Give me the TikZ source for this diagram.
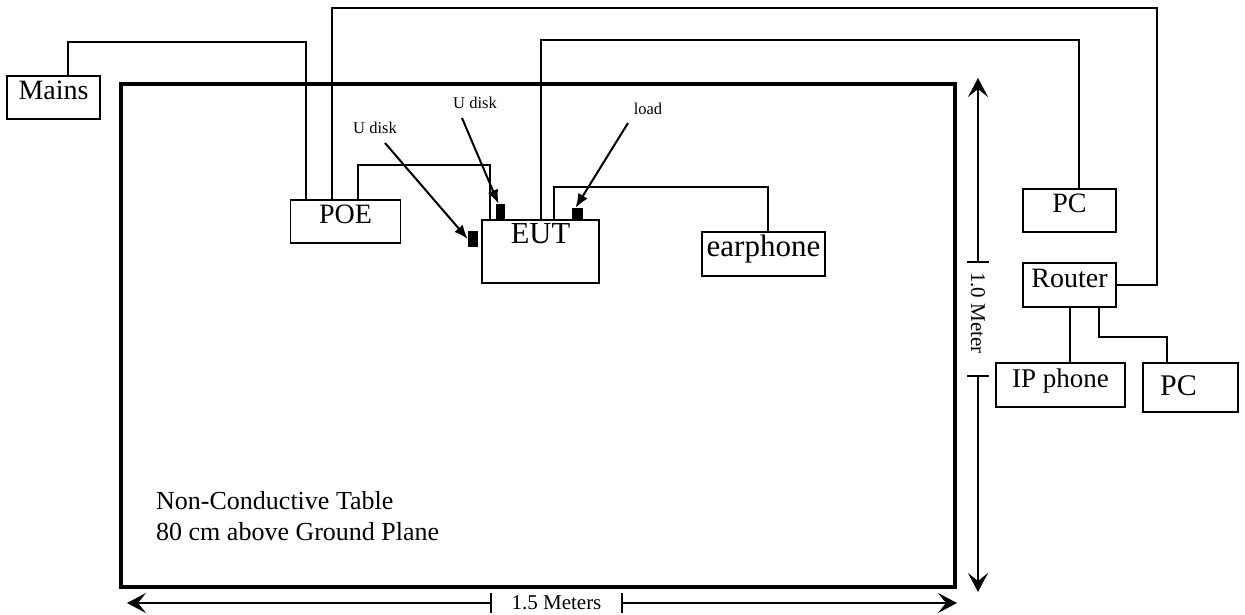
\documentclass[tikz,border=0pt]{standalone}
\usepackage{fontspec}
\setmainfont{Liberation Serif}
\usetikzlibrary{arrows.meta,positioning,calc}

\begin{document}
\begin{tikzpicture}[x=1pt, y=-1pt,
  box/.style={draw, line width=1.8pt, inner sep=0pt, text height=0.7em, text depth=0.25em,
              font=\fontsize{28}{30}\selectfont},
  wire/.style={line width=2pt},
  port/.style={fill=black, inner sep=0pt},
  tag/.style={font=\fontsize{16.5}{18}\selectfont, inner sep=0pt},
  ptr/.style={line width=2pt, -{Latex[length=14pt, width=11pt]}},
  dim/.style={line width=1.8pt, -{Stealth[length=19pt, width=20pt, inset=8pt]}},
  dimtext/.style={font=\fontsize{21}{24}\selectfont, inner sep=0pt}]
  \useasboundingbox (0,0) rectangle (1245,615);

  % table
  \node[draw, line width=3.5pt, minimum width=834pt, minimum height=503pt, inner sep=0pt] (table) at (538,335.5) {};
  \node[anchor=north west, align=left, inner sep=0pt, font=\fontsize{26}{31}\selectfont] (tablenote) at (156,491)
      {Non-Conductive Table\\80 cm above Ground Plane};

  % equipment
  \node[box, minimum width=93pt, minimum height=43pt] (mains) at (53.5,97.5) {Mains};
  \node[box, minimum width=110pt, minimum height=43pt] (poe) at (345.5,221.5) {POE};
  \node[box, minimum width=117pt, minimum height=63pt, text height=23pt, text depth=40pt,
        font=\fontsize{30.5}{32}\selectfont] (eut) at (540.5,251.5) {EUT};
  \node[box, minimum width=123pt, minimum height=44pt, font=\fontsize{31}{32}\selectfont] (ear) at (763.5,254) {earphone};
  \node[box, minimum width=93pt, minimum height=43pt] (pcA) at (1069.5,210.5) {PC};
  \node[box, minimum width=93pt, minimum height=44pt] (router) at (1069.5,285) {Router};
  \node[box, minimum width=129pt, minimum height=44pt, font=\fontsize{27}{30}\selectfont] (ipphone) at (1060.5,385) {IP phone};
  \node[box, minimum width=95pt, minimum height=49pt, text height=20pt, text depth=5pt,
        font=\fontsize{30}{32}\selectfont] (pcB) at (1190.5,387.5) {PC\kern24pt};

  % ports on the EUT
  \node[port, minimum width=10pt, minimum height=16pt] (usbA) at (473,239) {};
  \node[port, minimum width=9pt, minimum height=15pt] (usbB) at (500.5,211.5) {};
  \node[port, minimum width=11pt, minimum height=11pt] (loadport) at (577.5,213.5) {};

  \node[tag] (udiskA) at (375,128) {U disk};
  \node[tag] (udiskB) at (475,103) {U disk};
  \node[tag] (loadtag) at (648,109) {load};
  \coordinate (udAtail) at (385,143);
  \coordinate (udBtail) at (462,118);
  \coordinate (loadtail) at (628,123);
  \draw[ptr] (udAtail) -- (usbA.west);
  \draw[ptr] (udBtail) -- ([xshift=-2pt]usbB.north);
  \draw[ptr] (loadtail) -- ([xshift=-2pt]loadport.north);

  % cables
  \coordinate (mainsbend) at (306,42);
  \coordinate (toprun) at (1157,8);
  \coordinate (poebend) at (490,165);
  \coordinate (pcrun) at (1079,40);
  \coordinate (earbend) at (768,187);
  \coordinate (pcbbend) at (1167,337);
  \draw[wire] ([xshift=14.5pt]mains.north) |- (mainsbend) -- (mainsbend |- poe.north);
  \draw[wire] ([xshift=42.5pt]poe.north west) |- (toprun) |- (router.east);
  \draw[wire] ([xshift=68.5pt]poe.north west) |- (poebend) -- (poebend |- eut.north);
  \draw[wire] (eut.north) |- (pcrun) -- (pcrun |- pcA.north);
  \draw[wire] ([xshift=13.5pt]eut.north) |- (earbend) -- (earbend |- ear.north);
  \draw[wire] (router.south) -- (router.south |- ipphone.north);
  \draw[wire] ([xshift=29.5pt]router.south) |- (pcbbend) -- (pcbbend |- pcB.north);

  % dimensions
  \node[dimtext, minimum width=131pt, minimum height=20pt] (widthlbl) at (556.5,603) {1.5 Meters};
  \node[dimtext, rotate=-90, minimum width=114pt, minimum height=22pt] (heightlbl) at (978,319)
      {1.0 Meter\kern12pt};
  \coordinate (wleft) at (127,603);
  \coordinate (wright) at (957,603);
  \coordinate (htop) at (978,78);
  \coordinate (hbot) at (978,592);
  \draw[line width=1.6pt] (widthlbl.north west) -- (widthlbl.south west)
                          (widthlbl.north east) -- (widthlbl.south east);
  \draw[line width=1.6pt] (heightlbl.north west) -- (heightlbl.south west)
                          (heightlbl.north east) -- (heightlbl.south east);
  \draw[dim] (widthlbl.west) -- (wleft);
  \draw[dim] (widthlbl.east) -- (wright);
  \draw[dim] (heightlbl.west) -- (htop);
  \draw[dim] (heightlbl.east) -- (hbot);
\end{tikzpicture}
\end{document}
